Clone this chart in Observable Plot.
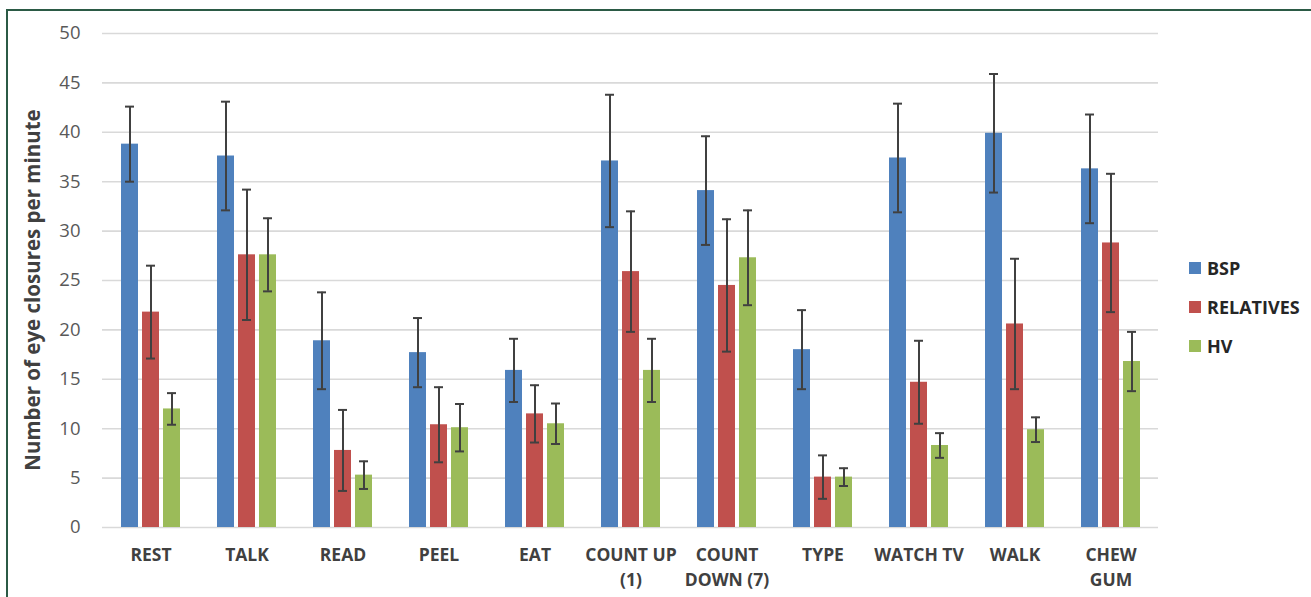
<!DOCTYPE html>
<html>
<head>
<meta charset="utf-8">
<script src="https://cdn.jsdelivr.net/npm/d3@7"></script>
<script src="https://cdn.jsdelivr.net/npm/@observablehq/plot@0.6"></script>
<style>
  body { margin: 0; background: white; font-family: 'Open Sans', sans-serif; }
  #wrap { position: relative; width: 1311px; height: 597px; overflow: hidden; }
  #frame { position: absolute; left: 6px; top: 9px; right: -5px; bottom: -5px;
           border-top: 2px solid #2b5a45; border-left: 2px solid #2b5a45; pointer-events: none; z-index: 2; }
  #ytitle { position: absolute; left: 32px; top: 290px; transform: translate(-50%, -50%) rotate(-90deg);
            white-space: nowrap; font-weight: 700; font-size: 20.5px; color: #404040; }
  #legend { position: absolute; left: 1189px; top: 248px; }
  .lg { display: flex; align-items: center; height: 39px; font-weight: 700; font-size: 18px; color: #262626; }
  .sw { width: 12px; height: 12px; margin-right: 6px; }
</style>
</head>
<body>
<div id="wrap">
  <div id="frame"></div>
  <div id="ytitle">Number of eye closures per minute</div>
  <div id="legend"></div>
</div>
<script>
const categories = ["REST", "TALK", "READ", "PEEL", "EAT", "COUNT UP\n(1)", "COUNT\nDOWN (7)", "TYPE", "WATCH TV", "WALK", "CHEW\nGUM"];
const seriesNames = ["BSP", "RELATIVES", "HV"];
const seriesColors = ["#4f81bd", "#c0504d", "#9bbb59"];

const bspMean = [38.8, 37.6, 18.9, 17.7, 15.9, 37.1, 34.1, 18.0, 37.4, 39.9, 36.3];
const bspErr  = [3.8, 5.5, 4.9, 3.5, 3.2, 6.7, 5.5, 4.0, 5.5, 6.0, 5.5];
const relMean = [21.8, 27.6, 7.8, 10.4, 11.5, 25.9, 24.5, 5.1, 14.7, 20.6, 28.8];
const relErr  = [4.7, 6.6, 4.1, 3.8, 2.9, 6.1, 6.7, 2.2, 4.2, 6.6, 7.0];
const hvMean  = [12.0, 27.6, 5.3, 10.1, 10.5, 15.9, 27.3, 5.1, 8.3, 9.9, 16.8];
const hvErr   = [1.6, 3.7, 1.4, 2.4, 2.05, 3.2, 4.8, 0.9, 1.25, 1.25, 3.0];

const yTicks = [0, 5, 10, 15, 20, 25, 30, 35, 40, 45, 50];

const means = [bspMean, relMean, hvMean];
const errs = [bspErr, relErr, hvErr];
const offsets = [-21, 0, 21];

const marks = [
  Plot.ruleY(yTicks, {y: d => d, stroke: "#d9d9d9", strokeWidth: 1.6}),
  Plot.text(yTicks, {y: d => d, text: d => String(d), frameAnchor: "left", textAnchor: "end", dx: -22,
                     fontSize: 18.5, fill: "#595959"}),
  Plot.text(categories, {x: d => d, text: d => d, frameAnchor: "bottom", lineAnchor: "top", dy: 15,
                         lineHeight: 1.45, fontSize: 17.5, fontWeight: 700, fill: "#404040"})
];

seriesNames.forEach((name, s) => {
  const rows = categories.map((c, i) => ({cat: c, v: means[s][i], lo: means[s][i] - errs[s][i], hi: means[s][i] + errs[s][i]}));
  marks.push(Plot.barY(rows, {x: "cat", y: "v", fill: seriesColors[s], dx: offsets[s]}));
  marks.push(Plot.ruleX(rows, {x: "cat", y1: "lo", y2: "hi", stroke: "#404040", strokeWidth: 2, dx: offsets[s]}));
  marks.push(Plot.tickY(rows, {x: "cat", y: "hi", stroke: "#404040", strokeWidth: 2, inset: 4, dx: offsets[s]}));
  marks.push(Plot.tickY(rows, {x: "cat", y: "lo", stroke: "#404040", strokeWidth: 2, inset: 4, dx: offsets[s]}));
});

const chart = Plot.plot({
  width: 1311,
  height: 597,
  marginLeft: 102,
  marginRight: 153,
  marginTop: 33,
  marginBottom: 70,
  style: {fontFamily: "'Open Sans', sans-serif", background: "transparent", overflow: "visible"},
  x: {domain: categories, paddingInner: 0.823, paddingOuter: 0.4115, axis: null},
  y: {domain: [0, 50], axis: null},
  marks
});
chart.style.position = "absolute";
chart.style.left = "0px";
chart.style.top = "0px";
document.getElementById("wrap").appendChild(chart);

const legend = document.getElementById("legend");
seriesNames.forEach((name, s) => {
  const row = document.createElement("div");
  row.className = "lg";
  const sw = document.createElement("div");
  sw.className = "sw";
  sw.style.background = seriesColors[s];
  const t = document.createElement("span");
  t.textContent = name;
  row.appendChild(sw);
  row.appendChild(t);
  legend.appendChild(row);
});
</script>
</body>
</html>
